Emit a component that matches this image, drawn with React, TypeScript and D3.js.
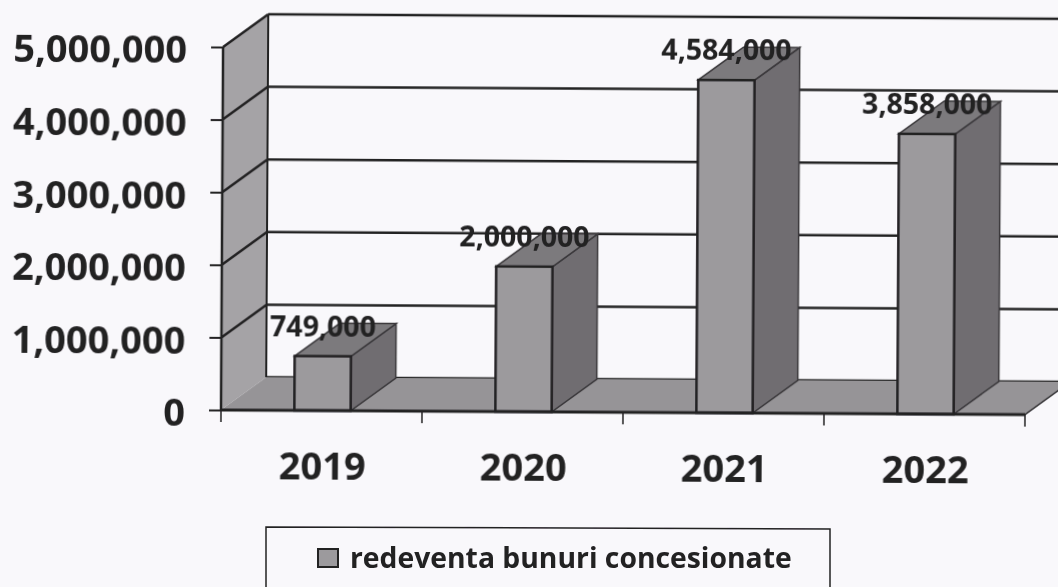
import React, { useRef, useEffect } from 'react';
import * as d3 from 'd3';

// Chart data
const years = ['2019', '2020', '2021', '2022'];
const values = [749000, 2000000, 4584000, 3858000];
const valueLabels = ['749,000', '2,000,000', '4,584,000', '3,858,000'];
const yTicks = [0, 1000000, 2000000, 3000000, 4000000, 5000000];
const legendLabel = 'redeventa bunuri concesionate';

const width = 1058;
const height = 587;
const tickFont = '"Open Sans", sans-serif';
const labelFont = '"Open Sans", sans-serif';
const ink = '#232124';

// 3D offset of the old spreadsheet style chart
const depthX = 45;
const depthY = -33;

const App = () => {
  const chartRef = useRef<SVGSVGElement | null>(null);

  useEffect(() => {
    if (!chartRef.current) return;
    const svg = d3.select(chartRef.current);
    svg.selectAll('*').remove();

    const xScale = d3.scaleBand<string>().domain(years).range([221, 1025]);
    const yScale = d3.scaleLinear().domain([0, 5000000]).range([410, 47]);
    const barWidth = xScale.bandwidth() * 0.28;
    const y0 = yScale(0);
    const yTop = yScale(5000000);
    const [xLeft, xRight] = xScale.range();

    svg.append('rect').attr('width', width).attr('height', height).attr('fill', '#f9f8fb');

    const defs = svg.append('defs');
    defs
      .append('filter')
      .attr('id', 'scan')
      .append('feGaussianBlur')
      .attr('stdDeviation', 0.45);

    // the scan is slightly tilted
    const chart = svg
      .append('g')
      .attr('filter', 'url(#scan)')
      .attr('transform', `rotate(0.33 ${xLeft} ${y0})`);

    // back wall gridlines
    chart
      .selectAll('.grid')
      .data(yTicks)
      .enter()
      .append('line')
      .attr('x1', xLeft + depthX)
      .attr('x2', xRight + depthX)
      .attr('y1', (d) => yScale(d) + depthY)
      .attr('y2', (d) => yScale(d) + depthY)
      .attr('stroke', ink)
      .attr('stroke-width', 2.5);

    // left wall
    chart
      .append('path')
      .attr(
        'd',
        `M${xLeft},${y0}L${xLeft},${yTop}L${xLeft + depthX},${yTop + depthY}L${xLeft + depthX},${y0 + depthY}Z`
      )
      .attr('fill', '#a5a3a6')
      .attr('stroke', 'none');
    chart
      .append('line')
      .attr('x1', xLeft)
      .attr('x2', xLeft)
      .attr('y1', yTop)
      .attr('y2', y0)
      .attr('stroke', ink)
      .attr('stroke-width', 2.5);
    chart
      .append('line')
      .attr('x1', xLeft + depthX)
      .attr('x2', xLeft + depthX)
      .attr('y1', yTop + depthY)
      .attr('y2', y0 + depthY)
      .attr('stroke', ink)
      .attr('stroke-width', 2);
    chart
      .selectAll('.wall-line')
      .data(yTicks.slice(1))
      .enter()
      .append('line')
      .attr('x1', xLeft)
      .attr('x2', xLeft + depthX)
      .attr('y1', (d) => yScale(d))
      .attr('y2', (d) => yScale(d) + depthY)
      .attr('stroke', ink)
      .attr('stroke-width', 2.5);

    // floor
    chart
      .append('path')
      .attr(
        'd',
        `M${xLeft},${y0}L${xRight},${y0}L${xRight + depthX},${y0 + depthY}L${xLeft + depthX},${y0 + depthY}Z`
      )
      .attr('fill', '#969497');
    chart
      .append('line')
      .attr('x1', xRight)
      .attr('x2', xRight + depthX)
      .attr('y1', y0)
      .attr('y2', y0 + depthY)
      .attr('stroke', ink)
      .attr('stroke-width', 1.5);

    // bars
    const bars = chart
      .selectAll('.bar')
      .data(values)
      .enter()
      .append('g')
      .attr('transform', (_, i) => {
        const cx = (xScale(years[i]) ?? 0) + xScale.bandwidth() / 2;
        return `translate(${cx - barWidth / 2 + 1},0)`;
      });

    bars
      .append('path')
      .attr('d', (d) => {
        const t = yScale(d);
        return `M${barWidth},${y0}L${barWidth},${t}L${barWidth + depthX},${t + depthY}L${barWidth + depthX},${y0 + depthY}Z`;
      })
      .attr('fill', '#6f6d71')
      .attr('stroke', '#3a383b')
      .attr('stroke-width', 1.5);
    bars
      .append('path')
      .attr('d', (d) => {
        const t = yScale(d);
        return `M0,${t}L${depthX},${t + depthY}L${barWidth + depthX},${t + depthY}L${barWidth},${t}Z`;
      })
      .attr('fill', '#7c7a7d')
      .attr('stroke', '#3a383b')
      .attr('stroke-width', 1.5);
    bars
      .append('rect')
      .attr('x', 0)
      .attr('y', (d) => yScale(d))
      .attr('width', barWidth)
      .attr('height', (d) => y0 - yScale(d))
      .attr('fill', '#9c9a9d')
      .attr('stroke', ink)
      .attr('stroke-width', 2.5);

    // data labels overlap the bar tops
    bars
      .append('text')
      .attr('x', barWidth / 2)
      .attr('y', (d) => yScale(d) - 20)
      .attr('text-anchor', 'middle')
      .attr('font-family', labelFont)
      .attr('font-weight', 700)
      .attr('font-size', 28.5)
      .attr('fill', ink)
      .text((_, i) => valueLabels[i]);

    // y axis, through d3's axis
    const yAxis = d3
      .axisLeft(yScale)
      .tickValues(yTicks)
      .tickSize(12)
      .tickPadding(24)
      .tickFormat((d) => d3.format(',')(d as number));
    const yAxisGroup = chart.append('g').attr('transform', `translate(${xLeft},0)`).call(yAxis);
    yAxisGroup.select('.domain').remove();
    yAxisGroup.selectAll('line').attr('stroke', ink).attr('stroke-width', 2);
    yAxisGroup
      .selectAll('text')
      .attr('dy', '0.42em')
      .attr('font-family', tickFont)
      .attr('font-weight', 700)
      .attr('font-size', 38)
      .attr('fill', ink);

    // x axis: ticks sit on the band edges
    const xEdges = [...years.map((y) => xScale(y) ?? 0), xRight];
    chart
      .append('line')
      .attr('x1', xLeft)
      .attr('x2', xRight)
      .attr('y1', y0)
      .attr('y2', y0)
      .attr('stroke', ink)
      .attr('stroke-width', 3);
    chart
      .selectAll('.x-tick')
      .data(xEdges)
      .enter()
      .append('line')
      .attr('x1', (d) => d)
      .attr('x2', (d) => d)
      .attr('y1', y0)
      .attr('y2', y0 + 12)
      .attr('stroke', ink)
      .attr('stroke-width', 1.5);
    chart
      .selectAll('.x-label')
      .data(years)
      .enter()
      .append('text')
      .attr('x', (d) => (xScale(d) ?? 0) + xScale.bandwidth() / 2 + 1)
      .attr('y', 469)
      .attr('text-anchor', 'middle')
      .attr('dominant-baseline', 'middle')
      .attr('font-family', tickFont)
      .attr('font-weight', 700)
      .attr('font-size', 38)
      .attr('fill', ink)
      .text((d) => d);

    // legend, its box runs off the bottom of the page
    const legend = svg.append('g').attr('filter', 'url(#scan)');
    legend
      .append('path')
      .attr('d', 'M266,600L266,527L830,529L830,600')
      .attr('fill', 'none')
      .attr('stroke', ink)
      .attr('stroke-width', 1.5);
    legend
      .append('rect')
      .attr('x', 318)
      .attr('y', 549)
      .attr('width', 20)
      .attr('height', 18)
      .attr('fill', '#9c9a9d')
      .attr('stroke', ink)
      .attr('stroke-width', 2);
    legend
      .append('text')
      .attr('x', 350)
      .attr('y', 568)
      .attr('font-family', tickFont)
      .attr('font-weight', 700)
      .attr('font-size', 28.3)
      .attr('fill', ink)
      .text(legendLabel);
  }, []);

  return (
    <svg
      ref={chartRef}
      width={width}
      height={height}
      style={{ position: 'fixed', left: 0, top: 0 }}
    />
  );
};

export default App;
